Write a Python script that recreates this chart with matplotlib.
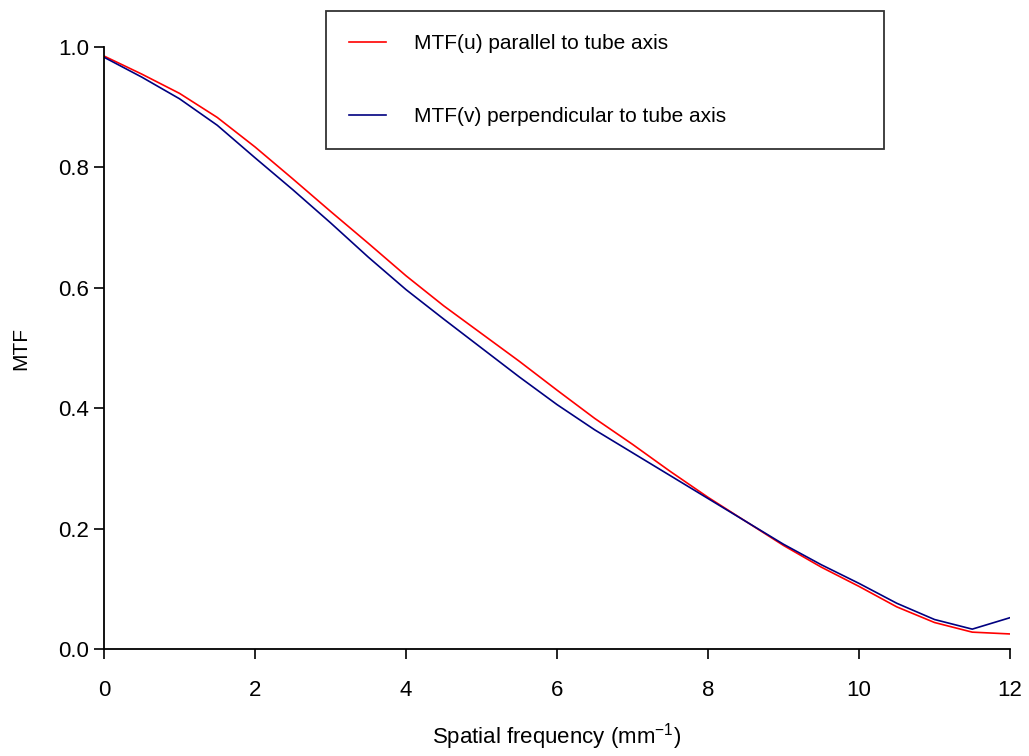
import numpy as np
import matplotlib
matplotlib.use('Agg')
import matplotlib.pyplot as plt

# --- Data ---
freq = [0, 0.5, 1, 1.5, 2, 2.5, 3, 3.5, 4, 4.5, 5, 5.5, 6,
        6.5, 7, 7.5, 8, 8.5, 9, 9.5, 10, 10.5, 11, 11.5, 12]
mtf_u = [0.985, 0.955, 0.923, 0.883, 0.834, 0.781, 0.727, 0.674, 0.620,
         0.570, 0.524, 0.478, 0.430, 0.383, 0.340, 0.295, 0.252, 0.212,
         0.172, 0.136, 0.104, 0.070, 0.044, 0.028, 0.025]
mtf_v = [0.983, 0.950, 0.914, 0.870, 0.816, 0.763, 0.708, 0.651, 0.597,
         0.548, 0.500, 0.452, 0.406, 0.364, 0.326, 0.288, 0.250, 0.212,
         0.174, 0.140, 0.109, 0.076, 0.049, 0.033, 0.052]
xticks = [0, 2, 4, 6, 8, 10, 12]
yticks = [0.0, 0.2, 0.4, 0.6, 0.8, 1.0]

plt.rcParams['font.family'] = ['Liberation Sans', 'DejaVu Sans']
plt.rcParams['mathtext.default'] = 'regular'

fig = plt.figure(figsize=(10.29, 7.56), dpi=100)
ax = fig.add_axes([104 / 1029, 1 - 649 / 756, 906 / 1029, 602 / 756])

ax.plot(freq, mtf_u, color='#ff0000', lw=1.2, label='MTF(u) parallel to tube axis')
ax.plot(freq, mtf_v, color='#000080', lw=1.2, label='MTF(v) perpendicular to tube axis')

ax.set_xlim(0, 12)
ax.set_ylim(0, 1.0)
ax.set_xticks(xticks)
ax.set_yticks(yticks)
ax.set_xticklabels([str(t) for t in xticks])
ax.set_yticklabels(['%.1f' % t for t in yticks])
ax.tick_params(direction='out', length=7.5, width=1.2, labelsize=16, colors='black')
ax.tick_params(axis='x', pad=15)
ax.tick_params(axis='y', pad=3)

for side in ['top', 'right']:
    ax.spines[side].set_visible(False)
for side in ['left', 'bottom']:
    ax.spines[side].set_linewidth(1.3)

ax.set_ylabel('MTF', fontsize=15, labelpad=20)
ax.set_xlabel('Spatial frequency (mm$^{-1}$)', fontsize=16, labelpad=14)

# legend box stretched to the reference's frame width
leg = fig.legend(loc='upper left', mode='expand',
                 bbox_to_anchor=(326 / 1029, 1 - 11 / 756, 558 / 1029, 0),
                 fontsize=15, frameon=True, fancybox=False, handlelength=1.8,
                 handletextpad=1.3, labelspacing=2.6, borderpad=1.1,
                 borderaxespad=0)
leg.get_frame().set_edgecolor('black')
leg.get_frame().set_linewidth(1.3)

fig.savefig('out.png', dpi=100)
